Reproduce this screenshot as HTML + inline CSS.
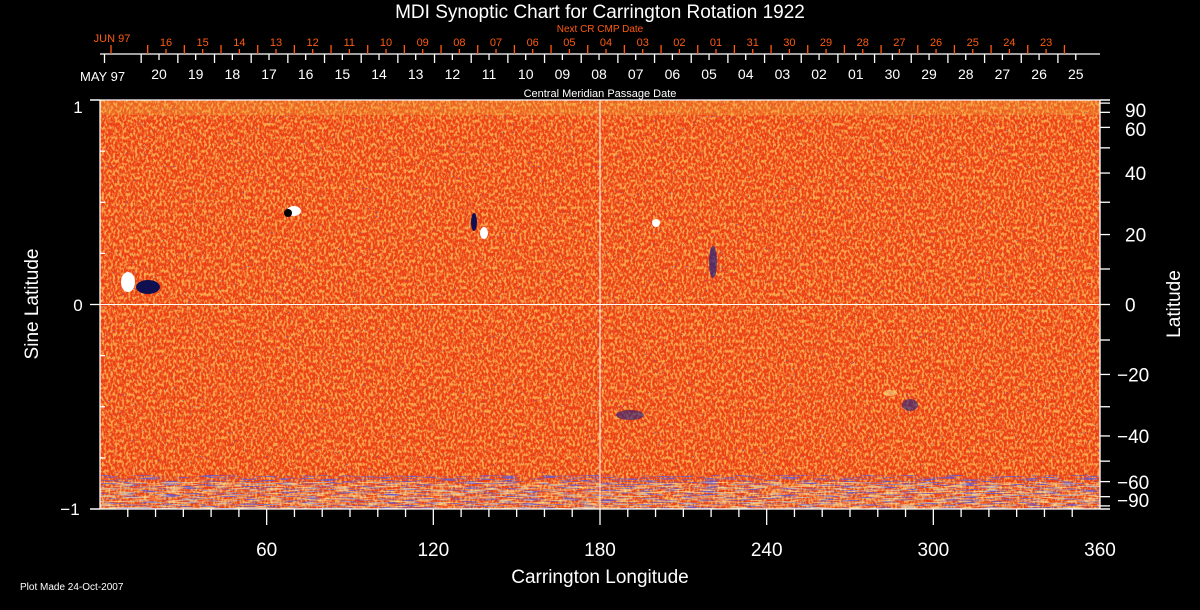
<!DOCTYPE html>
<html><head><meta charset="utf-8"><style>
html,body{margin:0;padding:0;background:#000;}
svg{display:block;}
text{font-family:"Liberation Sans",sans-serif;}
</style></head><body>
<svg id="s" width="1200" height="610" viewBox="0 0 1200 610" xmlns="http://www.w3.org/2000/svg">
<defs>
<filter id="tx" x="0" y="0" width="100%" height="100%">
<feTurbulence type="fractalNoise" baseFrequency="0.45 0.3" numOctaves="2" seed="3" result="n"/>
<feColorMatrix in="n" type="matrix" values="0 0 0 0 1  0 0 0 0 0.55  0 0 0 0 0.1  0 0 0 4 -1.7"/>
</filter>
<filter id="bl" x="0" y="0" width="100%" height="100%">
<feTurbulence type="fractalNoise" baseFrequency="0.6 0.5" numOctaves="1" seed="9" result="n"/>
<feColorMatrix in="n" type="matrix" values="0 0 0 0 0.1  0 0 0 0 0.1  0 0 0 0 0.6  0 0 0 14 -10"/>
</filter>
<filter id="bs" x="0" y="0" width="100%" height="100%">
<feTurbulence type="fractalNoise" baseFrequency="0.05 0.9" numOctaves="2" seed="5" result="n"/>
<feColorMatrix in="n" type="matrix" values="0 0 0 0 0.1  0 0 0 0 0.1  0 0 0 0 0.75  0 0 0 7 -3.6"/>
</filter>
<filter id="ys" x="0" y="0" width="100%" height="100%">
<feTurbulence type="fractalNoise" baseFrequency="0.06 0.8" numOctaves="2" seed="11" result="n"/>
<feColorMatrix in="n" type="matrix" values="0 0 0 0 1  0 0 0 0 0.9  0 0 0 0 0.4  0 0 0 6 -2.8"/>
</filter>
</defs>
<rect width="1200" height="610" fill="#000"/>
<rect x="100" y="100" width="1000" height="409" fill="#ec4016"/>
<rect x="100" y="100" width="1000" height="409" filter="url(#tx)" opacity="0.8"/>
<rect x="100" y="100" width="1000" height="409" filter="url(#bl)"/>
<rect x="100" y="101" width="1000" height="14" fill="#f0b040" opacity="0.3"/>
<rect x="100" y="475" width="1000" height="34" filter="url(#bs)" opacity="0.8"/>
<rect x="100" y="482" width="1000" height="27" filter="url(#ys)" opacity="0.6"/>
<ellipse cx="128" cy="282" rx="7" ry="10" fill="#fff"/>
<ellipse cx="148" cy="287" rx="12" ry="7" fill="#101050"/>
<ellipse cx="294" cy="211" rx="7" ry="5" fill="#fff"/>
<ellipse cx="288" cy="213" rx="4" ry="4" fill="#000"/>
<ellipse cx="484" cy="233" rx="4" ry="6" fill="#fff"/>
<ellipse cx="474" cy="222" rx="3" ry="9" fill="#101050"/>
<ellipse cx="713" cy="262" rx="4" ry="16" fill="#202080" opacity="0.7"/>
<ellipse cx="630" cy="415" rx="14" ry="5" fill="#202080" opacity="0.6"/>
<ellipse cx="910" cy="405" rx="8" ry="6" fill="#202080" opacity="0.6"/>
<ellipse cx="890" cy="393" rx="7" ry="3" fill="#f8e080" opacity="0.6"/>
<ellipse cx="656" cy="223" rx="4" ry="4" fill="#fff"/>
<line x1="600" y1="100" x2="600" y2="509" stroke="#fff" stroke-width="1"/>
<line x1="100" y1="304.5" x2="1100" y2="304.5" stroke="#fff" stroke-width="1"/>
<g stroke="#fff" stroke-width="1.3" fill="none">
<line x1="90" y1="100" x2="1110" y2="100"/>
<line x1="90" y1="509" x2="1110" y2="509"/>
<line x1="100" y1="100" x2="100" y2="509"/>
<line x1="1100" y1="100" x2="1100" y2="509"/>
<line x1="100" y1="54" x2="1100" y2="54"/>
</g>
<g fill="#fff" font-size="17">
<text x="600" y="18" text-anchor="middle" font-size="19">MDI Synoptic Chart for Carrington Rotation 1922</text>
<text x="600" y="97" text-anchor="middle" font-size="11">Central Meridian Passage Date</text>
<text x="80" y="81" font-size="13">MAY 97</text>
<text x="600" y="583" text-anchor="middle" font-size="19">Carrington Longitude</text>
<text x="20" y="590" font-size="10">Plot Made 24-Oct-2007</text>
<text x="78" y="113" text-anchor="middle">1</text>
<text x="78" y="311" text-anchor="middle">0</text>
<text x="70" y="515" text-anchor="middle">−1</text>
<text transform="translate(38,304) rotate(-90)" text-anchor="middle" font-size="19">Sine Latitude</text>
<text transform="translate(1180,304) rotate(-90)" text-anchor="middle" font-size="19">Latitude</text>
</g>
<g fill="#ff5a10" font-size="11">
<text x="600" y="32" text-anchor="middle" font-size="10">Next CR CMP Date</text>
<text x="112" y="42" text-anchor="middle">JUN 97</text>
</g>
<g id="dyn"></g>
</svg>
<script>
var g=document.getElementById('dyn'),NS='http://www.w3.org/2000/svg';
function L(x1,y1,x2,y2,c){var e=document.createElementNS(NS,'line');e.setAttribute('x1',x1);e.setAttribute('y1',y1);e.setAttribute('x2',x2);e.setAttribute('y2',y2);e.setAttribute('stroke',c);e.setAttribute('stroke-width',1.3);g.appendChild(e);}
function T(x,y,s,c,fs,a){var e=document.createElementNS(NS,'text');e.setAttribute('x',x);e.setAttribute('y',y);e.setAttribute('fill',c);e.setAttribute('font-size',fs);e.setAttribute('text-anchor',a||'middle');e.textContent=s;g.appendChild(e);}
var d=36.67;
var wl=['20','19','18','17','16','15','14','13','12','11','10','09','08','07','06','05','04','03','02','01','30','29','28','27','26','25'];
for(var i=0;i<27;i++){var x=104.5+i*d;if(x<=1101)L(x,54,x,63,'#fff');}
for(var i=0;i<26;i++){var x=159+i*d;L(x,54,x,60,'#fff');T(x,79,wl[i],'#fff',14);}
var ol=['16','15','14','13','12','11','10','09','08','07','06','05','04','03','02','01','31','30','29','28','27','26','25','24','23'];
for(var i=0;i<27;i++){var x=111+i*d;if(x<=1100)L(x,45,x,54,'#ff5a10');}
for(var i=0;i<25;i++){var x=166+i*d;L(x,49,x,54,'#ff5a10');T(x,46,ol[i],'#ff5a10',11);}
for(var k=10;k<360;k+=10){var x=100+k*1000/360;if(k%60==0){L(x,509,x,525,'#fff');}else L(x,509,x,517,'#fff');}
for(var k=60;k<=360;k+=60){var x=100+k*1000/360;T(x,556,String(k),'#fff',19);}
for(var v=-1;v<=1.001;v+=0.25){var y=304.5-204.5*v;if(Math.abs(v)<1e-6||Math.abs(Math.abs(v)-1)<1e-6)L(90,y,100,y,'#fff');else L(100,y,105,y,'#fff');}
var lat=[-90,-80,-70,-60,-50,-40,-30,-20,-10,0,10,20,30,40,50,60,70,80,90];
lat.forEach(function(a){var y=304.5-204.5*Math.sin(a*Math.PI/180);L(1100,y,1110,y,'#fff');});
[90,60,40,20,0,-20,-40,-60,-90].forEach(function(a){var y=304.5-204.5*Math.sin(a*Math.PI/180);if(a==90)y=110;if(a==-90)y=500;if(a==60)y=129;if(a==-60)y=482;var s=a<0?'−'+(-a):String(a);T(a<0?1117:1125,y+7,s,'#fff',19,'start');});
</script>
</body></html>
